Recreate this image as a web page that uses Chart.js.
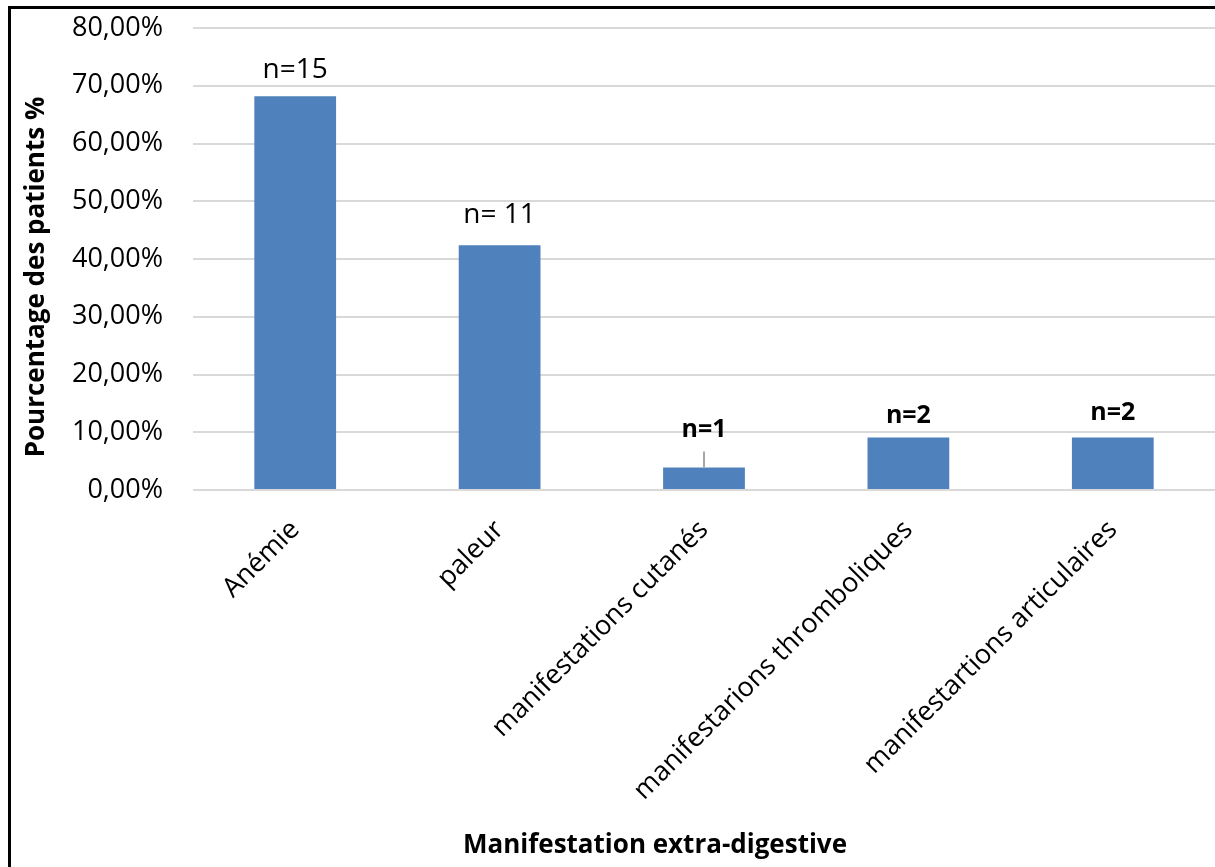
<!DOCTYPE html>
<html>
<head>
<meta charset="utf-8">
<title>Manifestation extra-digestive</title>
<script src="https://cdn.jsdelivr.net/npm/chart.js@4.4.1/dist/chart.umd.min.js"></script>
<style>
  html, body { margin: 0; padding: 0; background: #fff; }
  #wrap { position: relative; width: 1215px; height: 867px; }
</style>
</head>
<body>
<div id="wrap"><canvas id="chart" width="1215" height="867"></canvas></div>
<script>
const categories = ['Anémie', 'paleur', 'manifestations cutanés', 'manifestarions thromboliques', 'manifestartions articulaires'];
const percentages = [68.2, 42.4, 3.9, 9.1, 9.1];
const countLabels = ['n=15', 'n= 11', 'n=1', 'n=2', 'n=2'];
const countBold = [false, false, true, true, true];
const yMin = 0;
const yMax = 80;
const yStep = 10;

const FONT = "'Open Sans', 'Noto Sans', sans-serif";
Chart.defaults.font.family = FONT;
Chart.defaults.color = '#000';

// white background + the black frame on the left and top edges
const framePlugin = {
  id: 'frame',
  beforeDraw(chart) {
    const ctx = chart.ctx;
    ctx.save();
    ctx.fillStyle = '#fff';
    ctx.fillRect(0, 0, chart.width, chart.height);
    ctx.restore();
  },
  afterDraw(chart) {
    const ctx = chart.ctx;
    ctx.save();
    ctx.fillStyle = '#000';
    ctx.fillRect(8, 6, 3, chart.height);
    ctx.fillRect(8, 6, chart.width, 3);
    ctx.restore();
  }
};

// "n=.." labels above each bar, with a small leader line where the label sits far off
const countLabelPlugin = {
  id: 'countLabels',
  afterDatasetsDraw(chart, args, opts) {
    const ctx = chart.ctx;
    const meta = chart.getDatasetMeta(0);
    ctx.save();
    ctx.textAlign = 'center';
    ctx.textBaseline = 'middle';
    meta.data.forEach((bar, i) => {
      const off = opts.offsets[i];
      if (opts.leaders[i]) {
        ctx.strokeStyle = '#a6a6a6';
        ctx.lineWidth = 2;
        ctx.beginPath();
        ctx.moveTo(bar.x, bar.y);
        ctx.lineTo(bar.x, bar.y - opts.leaders[i]);
        ctx.stroke();
      }
      ctx.fillStyle = '#000';
      ctx.font = countBold[i] ? 'bold 25px ' + FONT : '28px ' + FONT;
      ctx.fillText(countLabels[i], bar.x, bar.y - off);
    });
    ctx.restore();
  }
};

// axis titles
const axisTitlePlugin = {
  id: 'axisTitles',
  afterDraw(chart) {
    const ctx = chart.ctx;
    ctx.save();
    ctx.fillStyle = '#000';
    ctx.font = 'bold 26px ' + FONT;
    ctx.textAlign = 'center';
    ctx.textBaseline = 'middle';
    ctx.fillText('Manifestation extra-digestive', 655, 846);
    ctx.translate(37, 277);
    ctx.rotate(-Math.PI / 2);
    ctx.fillText('Pourcentage des patients %', 0, 0);
    ctx.restore();
  }
};

new Chart(document.getElementById('chart'), {
  type: 'bar',
  data: {
    labels: categories,
    datasets: [{
      data: percentages,
      backgroundColor: '#4f81bd',
      borderWidth: 0,
      categoryPercentage: 1,
      barPercentage: 0.4
    }]
  },
  options: {
    responsive: false,
    devicePixelRatio: 1,
    animation: false,
    layout: { padding: { top: 28, left: 0, right: 0, bottom: 0 } },
    plugins: {
      legend: { display: false },
      tooltip: { enabled: false },
      countLabels: {
        offsets: [26, 30, 38, 22, 25],
        leaders: [0, 0, 16, 0, 0]
      }
    },
    scales: {
      x: {
        grid: { display: false },
        border: { display: false },
        ticks: {
          font: { size: 27 },
          color: '#000',
          minRotation: 45,
          maxRotation: 45,
          padding: 16
        },
        afterFit(scale) { scale.height = 377; }
      },
      y: {
        min: yMin,
        max: yMax,
        grid: { color: '#d9d9d9', lineWidth: 2, drawTicks: false },
        border: { display: false },
        ticks: {
          stepSize: yStep,
          font: { size: 27 },
          color: '#000',
          padding: 30,
          callback: v => v.toFixed(2).replace('.', ',') + '%'
        },
        afterFit(scale) {
          scale.width = 193;
          // tick padding otherwise adds to the top/bottom inset of the plot
          scale.paddingTop = 0;
          scale.paddingBottom = 0;
        }
      }
    }
  },
  plugins: [framePlugin, countLabelPlugin, axisTitlePlugin]
});
</script>
</body>
</html>
